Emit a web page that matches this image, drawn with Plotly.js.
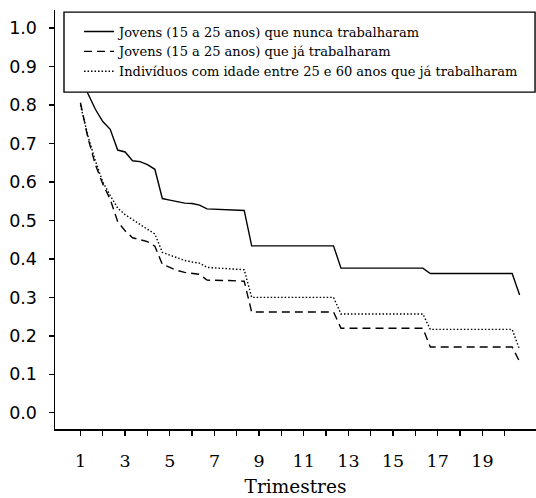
<!DOCTYPE html>
<html>
<head>
<meta charset="utf-8">
<script src="https://cdn.plot.ly/plotly-3.0.1.min.js"></script>
<style>html,body{margin:0;padding:0;background:#fff;}#chart{width:536px;height:498px;}</style>
</head>
<body>
<div id="chart"></div>
<script>
// Trimestres (monthly resolution, flat stretches only at breakpoints)
var trimestres = [1, 1.333, 1.667, 2, 2.333, 2.667, 3, 3.333, 3.667, 4, 4.333, 4.667, 5, 5.333, 5.667, 6, 6.333, 6.667, 7, 7.333, 7.667, 8, 8.333, 8.667, 12.333, 12.667, 16.333, 16.667, 20.333, 20.667];

var jovensNunca = [0.90, 0.830, 0.789, 0.757, 0.737, 0.683, 0.678, 0.655, 0.653, 0.645, 0.633, 0.557, 0.553, 0.549, 0.545, 0.544, 0.540, 0.530, 0.529, 0.528, 0.528, 0.527, 0.526, 0.434, 0.434, 0.376, 0.376, 0.362, 0.362, 0.306];

var jovensJa = [0.806, 0.715, 0.645, 0.595, 0.555, 0.497, 0.473, 0.455, 0.450, 0.445, 0.433, 0.386, 0.378, 0.370, 0.365, 0.362, 0.360, 0.345, 0.344, 0.344, 0.344, 0.343, 0.342, 0.262, 0.262, 0.220, 0.220, 0.171, 0.171, 0.133];

var adultosJa = [0.800, 0.720, 0.655, 0.600, 0.565, 0.532, 0.515, 0.502, 0.488, 0.477, 0.465, 0.417, 0.410, 0.402, 0.396, 0.392, 0.389, 0.378, 0.377, 0.376, 0.375, 0.373, 0.372, 0.300, 0.300, 0.257, 0.257, 0.217, 0.217, 0.164];

var seriesNames = [
  "Jovens (15 a 25 anos) que nunca trabalharam",
  "Jovens (15 a 25 anos) que já trabalharam",
  "Indivíduos com idade entre 25 e 60 anos que já trabalharam"
];

var xTickVals = [1,2,3,4,5,6,7,8,9,10,11,12,13,14,15,16,17,18,19,20];
var xTickText = ["1","","3","","5","","7","","9","","11","","13","","15","","17","","19",""];
var yTickVals = [0,0.1,0.2,0.3,0.4,0.5,0.6,0.7,0.8,0.9,1.0];
var yTickText = ["0.0","0.1","0.2","0.3","0.4","0.5","0.6","0.7","0.8","0.9","1.0"];

var serif = "DejaVu Serif, serif";
var traces = [
  {x: trimestres, y: jovensNunca, name: seriesNames[0], mode: "lines", line: {color: "#000", width: 1.4, dash: "solid"}},
  {x: trimestres, y: jovensJa, name: seriesNames[1], mode: "lines", line: {color: "#000", width: 1.4, dash: "8px,5px"}},
  {x: trimestres, y: adultosJa, name: seriesNames[2], mode: "lines", line: {color: "#000", width: 1.4, dash: "1.5px,2px"}}
];

var layout = {
  width: 536, height: 498,
  margin: {l: 55, r: 0, t: 10, b: 69},
  paper_bgcolor: "#fff", plot_bgcolor: "#fff",
  showlegend: true,
  legend: {
    x: 0.05, y: 0.9845, xanchor: "left", yanchor: "top",
    borderwidth: 0, bgcolor: "rgba(0,0,0,0)",
    font: {family: serif, size: 13, color: "#000"},
    tracegroupgap: 0
  },
  shapes: [{
    type: "rect", xref: "paper", yref: "paper",
    x0: 0.0187, x1: 0.998, y0: 0.804, y1: 0.995,
    line: {color: "#000", width: 1.4}, fillcolor: "#fff", layer: "above"
  }],
  xaxis: {
    range: [-0.14, 21.4],
    tickvals: xTickVals, ticktext: xTickText,
    ticks: "outside", ticklen: 5, tickwidth: 1.3, tickcolor: "#000",
    showline: true, linecolor: "#000", linewidth: 1.5,
    showgrid: false, zeroline: false,
    ticklabelstandoff: 10,
    tickfont: {family: serif, size: 17.5, color: "#000"},
    title: {text: "Trimestres", font: {family: serif, size: 18.5, color: "#000"}, standoff: 10}
  },
  yaxis: {
    range: [-0.042, 1.047],
    tickvals: yTickVals, ticktext: yTickText,
    ticks: "outside", ticklen: 5, tickwidth: 1.3, tickcolor: "#000",
    showline: true, linecolor: "#000", linewidth: 1.5,
    showgrid: false, zeroline: false,
    ticklabelstandoff: 8,
    tickfont: {family: "DejaVu Sans, sans-serif", size: 17.5, color: "#000"}
  }
};

Plotly.newPlot("chart", traces, layout, {displayModeBar: false, staticPlot: true});
</script>
</body>
</html>
